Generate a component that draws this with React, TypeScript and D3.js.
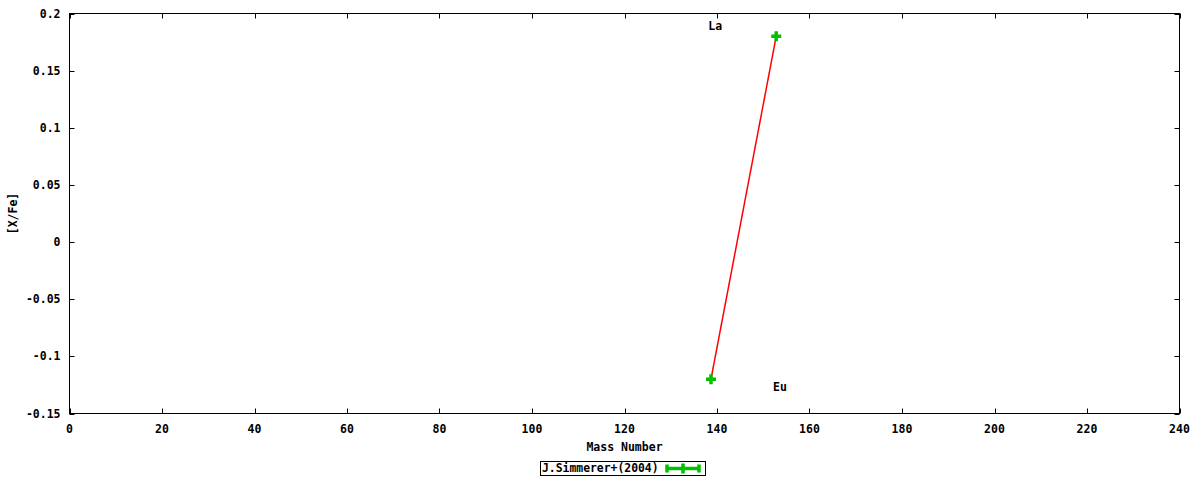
import { useEffect, useRef } from "react"
import * as d3 from "d3"

// Data: [X/Fe] vs mass number
const massNumbers = [138.7, 152.8]
const xFeValues = [-0.12, 0.18]
const labelTexts = ["La", "Eu"]
const labelMass = [139.6, 153.6]
const labelValues = [0.189, -0.127]
const xTicks = [0, 20, 40, 60, 80, 100, 120, 140, 160, 180, 200, 220, 240]
const yTicks = [-0.15, -0.1, -0.05, 0, 0.05, 0.1, 0.15, 0.2]
const seriesName = "J.Simmerer+(2004)"

const W = 1200
const H = 480
const M = { top: 13.5, right: 20.5, bottom: 66.5, left: 69.5 }
const FONT = "'DejaVu Sans Mono', monospace"
const INK = "#000"
const GREEN = "#00c000"
const RED = "#ff0000"

function fmt(t: number): string {
  const s = d3.format("~g")(Math.round(t * 100) / 100)
  return s.replace("−", "-")
}

export default function App() {
  const ref = useRef<SVGSVGElement>(null)

  useEffect(() => {
    if (!ref.current) return
    const svg = d3.select(ref.current)
    svg.selectAll("*").remove()

    const plotW = W - M.left - M.right
    const plotH = H - M.top - M.bottom
    const x = d3.scaleLinear().domain([0, 240]).range([M.left, M.left + plotW])
    const y = d3.scaleLinear().domain([-0.15, 0.2]).range([M.top + plotH, M.top])

    svg.append("rect").attr("width", W).attr("height", H).attr("fill", "#fff")

    // frame
    svg
      .append("rect")
      .attr("x", M.left)
      .attr("y", M.top)
      .attr("width", plotW)
      .attr("height", plotH)
      .attr("fill", "none")
      .attr("stroke", INK)
      .attr("stroke-width", 1)

    const TL = 5
    // x ticks (bottom + mirrored top)
    const gx = svg.append("g")
    xTicks.forEach((t) => {
      const px = Math.round(x(t)) + 0.5
      gx.append("line").attr("x1", px).attr("x2", px).attr("y1", M.top + plotH).attr("y2", M.top + plotH - TL).attr("stroke", INK)
      gx.append("line").attr("x1", px).attr("x2", px).attr("y1", M.top).attr("y2", M.top + TL).attr("stroke", INK)
      gx.append("text")
        .attr("x", x(t))
        .attr("y", M.top + plotH + 19)
        .attr("text-anchor", "middle")
        .attr("font-family", FONT)
        .attr("font-weight", "bold")
        .attr("font-size", 11.5)
        .attr("fill", INK)
        .text(fmt(t))
    })

    // y ticks (left + mirrored right)
    const gy = svg.append("g")
    yTicks.forEach((t) => {
      const py = Math.round(y(t)) + 0.5
      gy.append("line").attr("x1", M.left).attr("x2", M.left + TL).attr("y1", py).attr("y2", py).attr("stroke", INK)
      gy.append("line").attr("x1", M.left + plotW).attr("x2", M.left + plotW - TL).attr("y1", py).attr("y2", py).attr("stroke", INK)
      gy.append("text")
        .attr("x", M.left - 9)
        .attr("y", y(t))
        .attr("dy", "0.35em")
        .attr("text-anchor", "end")
        .attr("font-family", FONT)
        .attr("font-weight", "bold")
        .attr("font-size", 11.5)
        .attr("fill", INK)
        .text(fmt(t))
    })

    // axis titles
    svg
      .append("text")
      .attr("x", M.left + plotW / 2)
      .attr("y", 451)
      .attr("text-anchor", "middle")
      .attr("font-family", FONT)
      .attr("font-weight", "bold")
      .attr("font-size", 11.5)
      .attr("fill", INK)
      .text("Mass Number")
    svg
      .append("text")
      .attr("transform", `translate(17, ${M.top + plotH / 2}) rotate(-90)`)
      .attr("text-anchor", "middle")
      .attr("font-family", FONT)
      .attr("font-weight", "bold")
      .attr("font-size", 11.5)
      .attr("fill", INK)
      .text("[X/Fe]")

    // line
    const pts = massNumbers.map((m, i) => [m, xFeValues[i]] as [number, number])
    svg
      .append("path")
      .attr("d", d3.line<[number, number]>().x((d) => x(d[0])).y((d) => y(d[1]))(pts))
      .attr("fill", "none")
      .attr("stroke", RED)
      .attr("stroke-width", 1.5)

    // markers (plus)
    const S = 5
    pts.forEach(([m, v]) => {
      const cx = x(m)
      const cy = y(v)
      svg
        .append("path")
        .attr("d", `M${cx - S},${cy}H${cx + S}M${cx},${cy - S}V${cy + S}`)
        .attr("stroke", GREEN)
        .attr("stroke-width", 3.5)
    })

    // labels
    labelTexts.forEach((lab, i) => {
      svg
        .append("text")
        .attr("x", x(labelMass[i]))
        .attr("y", y(labelValues[i]))
        .attr("dy", "0.35em")
        .attr("text-anchor", "middle")
        .attr("font-family", FONT)
        .attr("font-weight", "bold")
        .attr("font-size", 11.5)
        .attr("fill", INK)
        .text(lab)
    })

    // legend
    const lg = svg.append("g")
    lg.append("rect")
      .attr("x", 540.5)
      .attr("y", 461.5)
      .attr("width", 165)
      .attr("height", 14)
      .attr("fill", "#fff")
      .attr("stroke", INK)
      .attr("stroke-width", 1)
    lg.append("text")
      .attr("x", 542)
      .attr("y", 468.5)
      .attr("dy", "0.35em")
      .attr("font-family", FONT)
      .attr("font-weight", "bold")
      .attr("font-size", 11.4)
      .attr("fill", INK)
      .text(seriesName)
    lg.append("path")
      .attr("d", "M666,468.5H700M667,464.5V472.5M699,464.5V472.5M683,463.5V473.5")
      .attr("stroke", GREEN)
      .attr("stroke-width", 3.5)
  }, [])

  return (
    <svg
      ref={ref}
      width={W}
      height={H}
      style={{ position: "absolute", left: 0, top: 0, display: "block" }}
    />
  )
}
